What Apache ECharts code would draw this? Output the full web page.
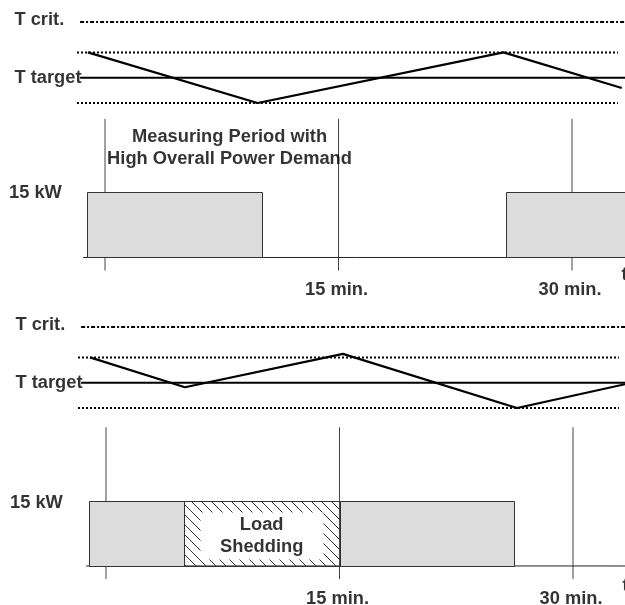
<!DOCTYPE html>
<html><head><meta charset="utf-8">
<script src="https://cdn.jsdelivr.net/npm/echarts@6/dist/echarts.min.js"></script>
<style>html,body{margin:0;padding:0;background:#fff}#c{width:625px;height:605px}</style>
</head><body><div id="c"></div>
<script>
// ---------- data ----------
const timeTicks = [0, 15, 30];
const timeTickLabels = ['', '15 min.', '30 min.'];
const tempLevels = [22.2, 21, 20, 19];          // T crit., upper band, T target, lower band
const tempLevelNames = ['T crit.', '', 'T target', ''];
const powerLevel = 15;
const powerLabel = '15 kW';
const axisName = 't';
const topTempX = [-1.1, 9.8, 25.6, 33.2];
const topTempY = [21, 19, 21, 19.59];
const botTempX = [-1.03, 5.07, 15.22, 26.4, 33.34];
const botTempY = [21, 19.82, 21.14, 19, 19.94];
const topBarStart = [-1.16, 25.74];
const topBarEnd = [10.09, 34];
const topBarKW = [15, 15];
const botBarStart = [-1.09, 5.01, 15];
const botBarEnd = [5.01, 15, 26.23];
const botBarKW = [15, 15, 15];
const botBarShed = [0, 1, 0];
const topNote = 'Measuring Period with\nHigh Overall Power Demand';
const botNote = 'Load\nShedding';

// ---------- layout / style ----------
const W = 625;
const PPM = 467 / 30;                 // pixels per minute
const ORIGIN = [105, 106];            // pixel x of t = 0 (top, bottom panel)
const FONT = "'Liberation Sans', Arial, sans-serif";
const TXT = {fontFamily: FONT, fontWeight: 'bold', fontSize: 18.3, color: '#000'};
const LABEL_X = -5.85, KW_LABEL_X = -6.2, T_NAME_X = 33.15;
const LINE_START = [-1.6, -1.8, -1.6, -1.8];   // per level
const LINE_END = [40, 32.95, 40, 32.95];
const LINE_TYPE = [[4, 2, 2, 2], [2, 2], 'solid', [2, 2]];
const BASE_START = [-1.41, -1.28];
const P_MIN = -3, P_MAX = 32;
const SHED_INSET = {l: 16, r: 17, t: 11, b: 7};   // white text area inside hatched block

function hatch() {
  const c = document.createElement('canvas');
  c.width = 10; c.height = 10;
  const g = c.getContext('2d');
  g.strokeStyle = '#333'; g.lineWidth = 1;
  g.beginPath();
  g.moveTo(-1, -1); g.lineTo(11, 11);
  g.moveTo(-1, 9); g.lineTo(1, 11);
  g.moveTo(9, -1); g.lineTo(11, 1);
  g.stroke();
  return c;
}
const hatchFill = {image: hatch(), repeat: 'repeat'};

const grids = [
  {left: 0, width: W, top: 22, height: 81},
  {left: 0, width: W, top: 118.8, height: 151.7},
  {left: 0, width: W, top: 327, height: 81},
  {left: 0, width: W, top: 427.3, height: 151.7}
];
const xAxes = grids.map((g, i) => {
  const o = ORIGIN[i < 2 ? 0 : 1];
  return {gridIndex: i, type: 'value', min: -o / PPM, max: (W - o) / PPM, show: false};
});
const yAxes = grids.map((g, i) => i % 2 === 0
  ? {gridIndex: i, type: 'value', min: 19, max: 22.2, show: false}
  : {gridIndex: i, type: 'value', min: P_MIN, max: P_MAX, show: false});

const series = [];
const hidden = {color: 'rgba(0,0,0,0)'};
function tempPanel(gi, xs, ys) {
  tempLevels.forEach((lv, k) => {
    series.push({type: 'line', xAxisIndex: gi, yAxisIndex: gi, symbol: 'none', silent: true,
      lineStyle: {color: '#000', width: 2, type: LINE_TYPE[k]},
      data: [[LINE_START[k], lv], [LINE_END[k], lv]]});
  });
  series.push({type: 'line', xAxisIndex: gi, yAxisIndex: gi, symbol: 'none', silent: true,
    lineStyle: {color: '#000', width: 2.2}, data: xs.map((x, i) => [x, ys[i]])});
  series.push({type: 'scatter', xAxisIndex: gi, yAxisIndex: gi, symbolSize: 1, silent: true,
    itemStyle: hidden,
    label: Object.assign({show: true, position: 'right', distance: 0, formatter: p => p.data.name}, TXT),
    data: tempLevels.map((lv, k) => ({name: tempLevelNames[k], value: [LABEL_X, lv],
      label: {offset: [0, k === 0 ? -2 : 0]}})).filter(d => d.name)});
}
function powerPanel(gi, starts, ends, kws, shed, baseStart, note, noteAt, tOffset) {
  // vertical time markers
  timeTicks.forEach(t => {
    series.push({type: 'line', xAxisIndex: gi, yAxisIndex: gi, symbol: 'none', silent: true, z: 1,
      lineStyle: {color: '#444', width: 1}, data: [[t, P_MIN], [t, P_MAX]]});
  });
  // baseline
  series.push({type: 'line', xAxisIndex: gi, yAxisIndex: gi, symbol: 'none', silent: true, z: 2,
    lineStyle: {color: '#222', width: 1}, data: [[baseStart, 0], [40, 0]]});
  // power blocks
  series.push({type: 'custom', xAxisIndex: gi, yAxisIndex: gi, clip: false, silent: true, z: 3,
    encode: {x: [0, 1], y: 2},
    data: starts.map((s, i) => [s, ends[i], kws[i], shed ? shed[i] : 0]),
    renderItem: (params, api) => {
      const p0 = api.coord([api.value(0), api.value(2)]);
      const p1 = api.coord([api.value(1), 0]);
      const x0 = Math.round(p0[0]) + 0.5, y0 = Math.round(p0[1]) + 0.5;
      const x1 = Math.round(p1[0]) + 0.5, y1 = Math.round(p1[1]) + 0.5;
      const isShed = api.value(3);
      const children = [{type: 'rect', shape: {x: x0, y: y0, width: x1 - x0, height: y1 - y0},
        style: {fill: isShed ? hatchFill : '#dcdcdc', stroke: '#333', lineWidth: 1}}];
      if (isShed) {
        children.push({type: 'rect', shape: {x: x0 + SHED_INSET.l, y: y0 + SHED_INSET.t,
          width: x1 - x0 - SHED_INSET.l - SHED_INSET.r, height: y1 - y0 - SHED_INSET.t - SHED_INSET.b},
          style: {fill: '#fff'}});
      }
      return {type: 'group', children};
    }});
  // texts
  series.push({type: 'scatter', xAxisIndex: gi, yAxisIndex: gi, symbolSize: 1, silent: true, z: 5,
    itemStyle: hidden,
    label: {formatter: p => p.data.name},
    data: [
      {name: powerLabel, value: [KW_LABEL_X, powerLevel],
        label: Object.assign({show: true, position: 'right', distance: 0, offset: [0, gi === 3 ? 2 : 0.5]}, TXT)},
      {name: note, value: noteAt,
        label: Object.assign({show: true, position: 'inside', align: 'center', lineHeight: 22}, TXT)},
      {name: axisName, value: [T_NAME_X, P_MIN],
        label: Object.assign({show: true, position: 'right', distance: 0, offset: [0, tOffset]}, TXT)}
    ].concat(timeTicks.map((t, k) => ({name: timeTickLabels[k], value: [t, P_MIN],
        label: Object.assign({show: true, position: 'bottom', distance: 10, offset: [-2, 0]}, TXT)})))
  });
}
tempPanel(0, topTempX, topTempY);
powerPanel(1, topBarStart, topBarEnd, topBarKW, null, BASE_START[0], topNote, [8.0, 25.27], 4);
tempPanel(2, botTempX, botTempY);
powerPanel(3, botBarStart, botBarEnd, botBarKW, botBarShed, BASE_START[1], botNote, [10.0, 7.0], 7);

const chart = echarts.init(document.getElementById('c'), null, {renderer: 'canvas'});
chart.setOption({animation: false, backgroundColor: '#fff', grid: grids, xAxis: xAxes, yAxis: yAxes, series});
</script></body></html>
